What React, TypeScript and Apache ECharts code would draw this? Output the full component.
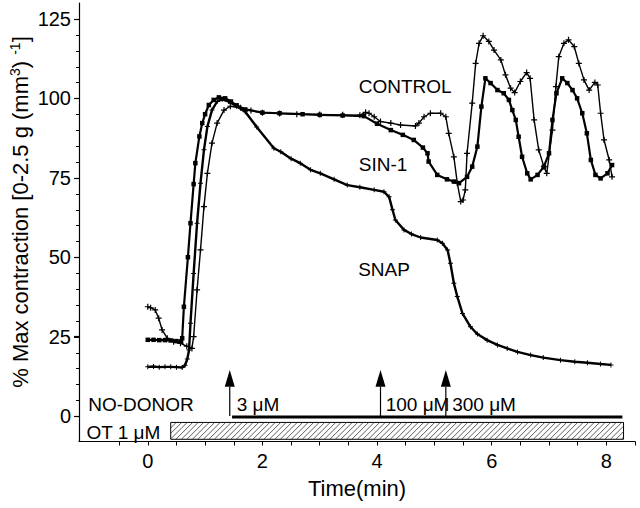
import React, { useEffect, useRef } from "react";
import * as echarts from "echarts";

// ---------- data ----------
const controlData: number[][] = [
  [0, 34.4], [0.05, 34.1], [0.13, 33.4], [0.19, 30.8], [0.25, 27.1], [0.34, 24.5], [0.45, 23.4],
  [0.57, 22.9], [0.68, 22.0], [0.77, 21.3], [0.8, 25], [0.86, 39.7], [0.92, 52.3], [0.98, 65.9],
  [1.04, 76.4], [1.12, 85.9], [1.21, 92.2], [1.33, 96.3], [1.44, 97.5], [1.62, 97.0], [1.8, 96.2],
  [2.0, 95.5], [2.3, 95.2], [2.6, 95.0], [3.0, 94.9], [3.4, 94.8], [3.7, 94.7], [3.8, 95.6],
  [3.86, 95.3], [3.95, 94.2], [4.06, 92.7], [4.24, 92.2], [4.41, 91.6], [4.67, 91.3], [4.73, 92.2],
  [4.82, 94.2], [4.93, 95.3], [5.11, 95.3], [5.2, 94.2], [5.25, 89], [5.34, 81.6], [5.4, 73.3],
  [5.46, 67.5], [5.5, 68], [5.54, 71.2], [5.57, 82.7], [5.66, 98.5], [5.72, 111], [5.78, 117.3],
  [5.85, 119.7], [5.95, 117.9], [6.04, 115.2], [6.16, 112.1], [6.24, 107.4], [6.33, 103.2],
  [6.4, 101.8], [6.5, 105.3], [6.61, 108.1], [6.67, 106.3], [6.74, 93.2], [6.82, 83.8], [6.91, 78.5],
  [6.96, 76.4], [7.06, 90], [7.12, 103.7], [7.17, 113.1], [7.26, 117.3], [7.34, 118.4], [7.44, 116.3],
  [7.52, 111], [7.61, 105.8], [7.7, 102.6], [7.8, 105], [7.85, 104.2], [7.9, 95.3], [7.96, 86.9],
  [8.05, 80.6], [8.1, 75.3],
];

const sin1Data: number[][] = [
  [0, 24], [0.1, 24], [0.2, 23.9], [0.3, 23.9], [0.4, 23.8], [0.5, 23.6], [0.58, 23.5], [0.6, 24.5],
  [0.63, 34.4], [0.7, 50], [0.745, 60.7], [0.8, 73], [0.83, 79.6], [0.9, 88], [0.95, 92.2], [1.0, 95],
  [1.065, 97.9], [1.15, 99.5], [1.24, 100.3], [1.35, 100], [1.45, 99], [1.55, 97.8], [1.7, 96.5],
  [2.0, 95.5], [2.3, 95.3], [2.7, 95], [3.0, 94.8], [3.4, 94.6], [3.77, 94.4], [4.0, 92], [4.24, 90],
  [4.45, 88.5], [4.64, 86.9], [4.8, 84.5], [4.88, 82.7], [4.9, 80.1], [5.05, 75.9], [5.22, 74.5],
  [5.34, 73.8], [5.43, 73.3], [5.57, 75.3], [5.66, 78.5], [5.75, 84.8], [5.82, 97.4], [5.89, 106.3],
  [5.98, 104.8], [6.1, 102.6], [6.21, 101.6], [6.3, 99.5], [6.36, 96.3], [6.42, 93.2], [6.47, 87.9],
  [6.53, 81.6], [6.62, 76.4], [6.68, 74.5], [6.8, 75.9], [6.91, 78.5], [7.0, 82.7], [7.06, 93.2],
  [7.13, 101.6], [7.23, 106.3], [7.32, 104.8], [7.41, 102.6], [7.49, 100], [7.58, 95.3], [7.66, 89],
  [7.73, 80.6], [7.81, 75.9], [7.9, 74.8], [8.02, 76.4], [8.1, 79],
];

const snapData: number[][] = [
  [0, 15.5], [0.1, 15.6], [0.2, 15.4], [0.3, 15.5], [0.4, 15.5], [0.5, 15.4], [0.6, 15.3], [0.65, 16],
  [0.69, 18], [0.72, 20.8], [0.745, 29.2], [0.8, 44.9], [0.86, 60.7], [0.92, 73.3], [0.98, 83.8],
  [1.04, 91.1], [1.12, 96.3], [1.21, 99], [1.3, 99.7], [1.41, 99], [1.55, 97.5], [1.7, 95.8],
  [1.9, 91], [2.2, 84.3], [2.32, 83.2], [2.5, 81], [2.66, 79.6], [2.84, 77.5], [3.01, 76.4],
  [3.25, 74.5], [3.48, 72.7], [3.7, 72], [3.95, 71.2], [4.12, 70.6], [4.21, 69], [4.27, 64.9],
  [4.32, 61.7], [4.47, 58.6], [4.6, 57.3], [4.76, 56.2], [5.05, 55.4], [5.14, 54.4], [5.23, 52.3],
  [5.28, 48.1], [5.34, 41.8], [5.4, 37.6], [5.49, 32.3], [5.63, 28.1], [5.75, 25.8], [5.92, 23.9],
  [6.1, 22.4], [6.27, 21.3], [6.45, 20.2], [6.68, 19.2], [6.9, 18.4], [7.2, 17.6], [7.45, 17.1],
  [7.67, 16.8], [7.9, 16.4], [8.08, 16.1],
];

const X_MIN = -1.2;
const xTickValues = [-0.5, 0, 0.5, 1, 1.5, 2, 2.5, 3, 3.5, 4, 4.5, 5, 5.5, 6, 6.5, 7, 7.5, 8, 8.5];
const xLabelValues = [0, 2, 4, 6, 8];
const yLabelValues = [0, 25, 50, 75, 100, 125];
const yMinorTickValues = [
  5, 10, 15, 20, 30, 35, 40, 45, 55, 60, 65, 70, 80, 85, 90, 95, 105, 110, 115, 120,
];

// OT 1 µM hatched bar: [start, top, end, bottom]
const otBar = [0.4, -2.0, 8.3, -7.3];
// NO-DONOR line
const noDonorLine: number[][] = [[1.47, -0.3], [8.28, -0.3]];
// donor addition arrows: time, head base, tip
const arrowTimes = [1.43, 4.06, 5.2];
const arrowHeadBase = 9.2;
const arrowTip = 14.5;

// in-plot text labels
const labelTexts = ["CONTROL", "SIN-1", "SNAP", "NO-DONOR", "OT 1 μM", "3 μM", "100 μM", "300 μM"];
const labelX = [3.68, 3.68, 3.67, -1.04, -1.07, 1.55, 4.15, 5.31];
const labelY = [103.7, 79.3, 46, 3.6, -5.3, 3.5, 3.5, 3.5];

const FONT = "Liberation Sans, Arial, sans-serif";
const PLUS = "path://M4,0L6,0L6,4L10,4L10,6L6,6L6,10L4,10L4,6L0,6L0,4L4,4Z";

export default function App() {
  const ref = useRef<HTMLDivElement>(null);

  useEffect(() => {
    if (!ref.current) return;
    const chart = echarts.init(ref.current, null, { renderer: "svg" });

    const titleGraphic = {
      id: "ytitle",
      type: "text",
      x: 20,
      y: 212,
      rotation: Math.PI / 2,
      style: {
        text: "% Max contraction [0-2.5 g (mm{sup|3}) {sup|-1}]",
        font: `22px ${FONT}`,
        fill: "#000",
        align: "center",
        verticalAlign: "middle",
        rich: {
          sup: { fontSize: 14, fontFamily: FONT, fill: "#000", padding: [0, 0, 10, 0] },
        },
      },
    };

    const option: any = {
      animation: false,
      backgroundColor: "#fff",
      grid: { left: 79, right: 5, top: 3, bottom: 66.5, containLabel: false, outerBoundsMode: "none" },
      xAxis: {
        type: "value",
        min: X_MIN,
        max: 8.5,
        name: "Time(min)",
        nameLocation: "middle",
        nameGap: 36,
        nameTextStyle: { fontSize: 22, color: "#000", fontFamily: FONT },
        axisLine: { show: true, onZero: false, lineStyle: { color: "#000", width: 1.2 } },
        axisTick: { show: true, inside: false, length: 4, customValues: xTickValues, lineStyle: { color: "#000", width: 1 } },
        axisLabel: { customValues: xLabelValues, fontSize: 20, color: "#000", fontFamily: FONT, margin: 9 },
        splitLine: { show: false },
      },
      yAxis: {
        type: "value",
        min: -8,
        max: 130,
        position: "left",
        axisLine: { show: true, onZero: false, lineStyle: { color: "#000", width: 1.2 } },
        axisTick: { show: true, inside: false, length: 5, customValues: yLabelValues, lineStyle: { color: "#000", width: 1.2 } },
        axisLabel: { customValues: yLabelValues, fontSize: 20, color: "#000", fontFamily: FONT, margin: 8 },
        splitLine: { show: false },
      },
      graphic: [titleGraphic],
      series: [
        {
          type: "custom",
          name: "OT bar",
          silent: true,
          data: [otBar],
          encode: { x: [0, 2], y: [1, 3] },
          renderItem: (params: any, api: any) => {
            const p0 = api.coord([api.value(0), api.value(1)]);
            const p1 = api.coord([api.value(2), api.value(3)]);
            const x0 = p0[0], y0 = p0[1], x1 = p1[0], y1 = p1[1];
            const h = y1 - y0;
            const children: any[] = [
              { type: "rect", shape: { x: x0, y: y0, width: x1 - x0, height: h }, style: { fill: "#fff", stroke: "#000", lineWidth: 1 } },
            ];
            const step = 5.5;
            for (let s = x0 - h; s < x1; s += step) {
              let ax = s, ay = y1, bx = s + h, by = y0;
              if (ax < x0) { ay = y1 - (x0 - ax); ax = x0; }
              if (bx > x1) { by = y0 + (bx - x1); bx = x1; }
              if (bx <= ax) continue;
              children.push({ type: "line", shape: { x1: ax, y1: ay, x2: bx, y2: by }, style: { stroke: "#333", lineWidth: 0.8 } });
            }
            return { type: "group", children };
          },
          z: 1,
        },
        {
          type: "line",
          name: "NO-DONOR",
          data: noDonorLine,
          showSymbol: false,
          lineStyle: { color: "#000", width: 3 },
          silent: true,
          z: 2,
        },
        {
          type: "custom",
          name: "arrows",
          silent: true,
          data: arrowTimes.map((t) => [t, 0, arrowHeadBase, arrowTip]),
          encode: { x: 0, y: [1, 2, 3] },
          renderItem: (params: any, api: any) => {
            const t = api.value(0);
            const pb = api.coord([t, api.value(1)]);
            const ph = api.coord([t, api.value(2)]);
            const pt = api.coord([t, api.value(3)]);
            return {
              type: "group",
              children: [
                { type: "line", shape: { x1: pb[0], y1: pb[1], x2: ph[0], y2: ph[1] }, style: { stroke: "#000", lineWidth: 1.2 } },
                { type: "polygon", shape: { points: [[ph[0] - 5, ph[1]], [ph[0] + 5, ph[1]], [pt[0], pt[1]]] }, style: { fill: "#000" } },
              ],
            };
          },
          z: 3,
        },
        {
          type: "custom",
          name: "labels",
          silent: true,
          data: labelX.map((x, i) => [x, labelY[i]]),
          encode: { x: 0, y: 1 },
          renderItem: (params: any, api: any) => {
            const p = api.coord([api.value(0), api.value(1)]);
            return {
              type: "text",
              x: p[0],
              y: p[1],
              style: {
                text: labelTexts[params.dataIndex],
                font: `19px ${FONT}`,
                fill: "#000",
                align: "left",
                verticalAlign: "middle",
              },
            };
          },
          z: 4,
        },
        {
          type: "line",
          name: "SNAP",
          data: snapData,
          symbol: PLUS,
          symbolSize: 5,
          showSymbol: true,
          lineStyle: { color: "#000", width: 2.4 },
          itemStyle: { color: "#000", borderWidth: 0 },
          z: 5,
        },
        {
          type: "line",
          name: "SIN-1",
          data: sin1Data,
          symbol: "rect",
          symbolSize: 4.5,
          showSymbol: true,
          lineStyle: { color: "#000", width: 2.2 },
          itemStyle: { color: "#000", borderWidth: 0 },
          z: 5,
        },
        {
          type: "line",
          name: "CONTROL",
          data: controlData,
          symbol: PLUS,
          symbolSize: 6,
          showSymbol: true,
          lineStyle: { color: "#000", width: 1.4 },
          itemStyle: { color: "#000", borderWidth: 0 },
          z: 5,
        },
      ],
    };

    chart.setOption(option);

    // y-axis ticks (major and minor) placed through the chart's own scale
    try {
      const tickGraphics: any[] = [];
      const addTick = (v: number, len: number, i: string) => {
        const p = chart.convertToPixel({ gridIndex: 0 }, [X_MIN, v]) as number[];
        if (!p || isNaN(p[0]) || isNaN(p[1])) return;
        tickGraphics.push({
          id: "ytick-" + i,
          type: "line",
          shape: { x1: p[0] - len, y1: Math.round(p[1]) + 0.5, x2: p[0], y2: Math.round(p[1]) + 0.5 },
          style: { stroke: "#000", lineWidth: 1 },
          z: 10,
        });
      };
      yLabelValues.forEach((v, i) => addTick(v, 5, "M" + i));
      yMinorTickValues.forEach((v, i) => addTick(v, 3, "m" + i));
      chart.setOption({ graphic: [titleGraphic, ...tickGraphics] });
    } catch (e) {
      // keep the chart as is
    }

    return () => chart.dispose();
  }, []);

  return (
    <div
      ref={ref}
      style={{ position: "fixed", left: 0, top: 0, width: 640, height: 508, background: "#fff" }}
    />
  );
}
